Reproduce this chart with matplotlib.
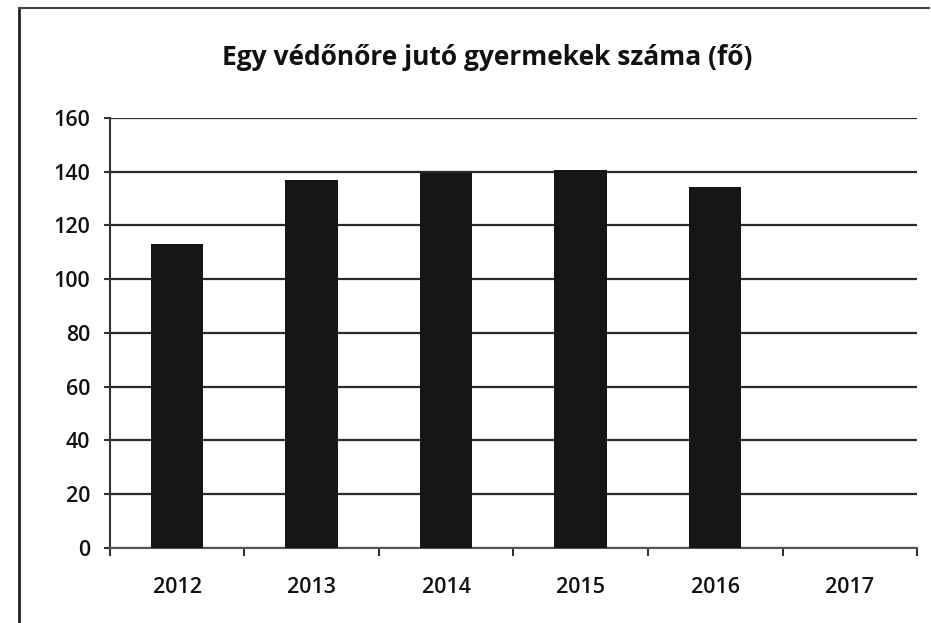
import matplotlib
matplotlib.use("Agg")
import matplotlib.pyplot as plt
from matplotlib.lines import Line2D
import numpy as np

years = ["2012", "2013", "2014", "2015", "2016", "2017"]
values = [113, 137, 139.5, 140.7, 134.4, 0]
yticks = [0, 20, 40, 60, 80, 100, 120, 140, 160]
title = "Egy védőnőre jutó gyermekek száma (fő)"

plt.rcParams['font.family'] = ['Open Sans', 'DejaVu Sans']

fig = plt.figure(figsize=(9.31, 6.23), dpi=100)
ax = fig.add_axes([0.118, 0.1204, 0.867, 0.6902])

x = np.arange(len(years))
ax.bar(x[:5], values[:5], width=0.39, color="#161616", zorder=3)

ax.set_xlim(-0.5, len(years) - 0.5)
ax.set_ylim(0, 160)
ax.set_yticks(yticks)
ax.set_yticklabels([str(t) for t in yticks], fontsize=15.5, fontweight='semibold', color="#111111")
ax.set_xticks(x)
ax.set_xticklabels(years, fontsize=15.5, fontweight='semibold', color="#111111")
ax.set_xticks(np.arange(-0.5, len(years)), minor=True)
ax.tick_params(axis='x', which='major', length=0, pad=21)
ax.tick_params(axis='x', which='minor', length=6, width=1.5, color="#333333", direction='out')
ax.tick_params(axis='y', length=4, width=1.5, color="#333333", pad=10)

ax.grid(axis='y', color="#2a2a2a", linewidth=1.6, zorder=0)
for s in ['top', 'right']:
    ax.spines[s].set_visible(False)
ax.spines['left'].set_color("#333333")
ax.spines['left'].set_linewidth(1.5)
ax.spines['bottom'].set_color("#555555")
ax.spines['bottom'].set_linewidth(1.5)

fig.text(0.523, 0.907, title, ha='center', va='center', fontsize=19, fontweight='bold', color="#111111")

# outer frame of the scanned chart
fig.add_artist(Line2D([0.020, 0.020], [0.0, 0.987], color="#222222", linewidth=2))
fig.add_artist(Line2D([0.020, 0.998], [0.987, 0.987], color="#444444", linewidth=1.5))

fig.savefig("out.png", dpi=100)
